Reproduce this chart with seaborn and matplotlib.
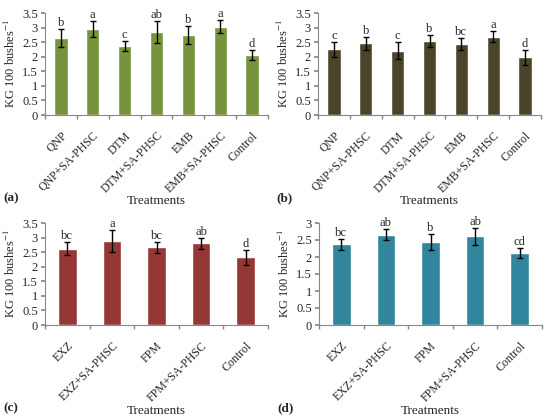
import numpy as np
import pandas as pd
import matplotlib
matplotlib.use("Agg")
import matplotlib.pyplot as plt
import seaborn as sns
from matplotlib.ticker import FuncFormatter, MultipleLocator

# panel (a)
cats_a = ['QNP', 'QNP+SA-PHSC', 'DTM', 'DTM+SA-PHSC', 'EMB', 'EMB+SA-PHSC', 'Control']
vals_a = [2.64, 2.95, 2.37, 2.84, 2.74, 3.03, 2.06]
errs_a = [0.30, 0.28, 0.16, 0.38, 0.30, 0.22, 0.18]
lets_a = ['b', 'a', 'c', 'ab', 'b', 'a', 'd']

# panel (b)
cats_b = cats_a
vals_b = [2.25, 2.46, 2.21, 2.53, 2.43, 2.69, 1.98]
errs_b = [0.25, 0.22, 0.29, 0.21, 0.21, 0.20, 0.26]
lets_b = ['c', 'b', 'c', 'b', 'bc', 'a', 'd']

# panel (c)
cats_c = ['EXZ', 'EXZ+SA-PHSC', 'FPM', 'FPM+SA-PHSC', 'Control']
vals_c = [2.62, 2.89, 2.66, 2.80, 2.33]
errs_c = [0.23, 0.38, 0.19, 0.19, 0.26]
lets_c = ['bc', 'a', 'bc', 'ab', 'd']

# panel (d)
cats_d = cats_c
vals_d = [2.38, 2.65, 2.45, 2.61, 2.11]
errs_d = [0.16, 0.16, 0.24, 0.25, 0.15]
lets_d = ['bc', 'ab', 'b', 'ab', 'cd']

sns.set_theme(style="white")
plt.rcParams['font.family'] = ['Liberation Serif', 'DejaVu Serif']
plt.rcParams['mathtext.fontset'] = 'stix'
plt.rcParams['font.size'] = 9

W, H = 550, 418
fig = plt.figure(figsize=(W / 100, H / 100), dpi=100)

panels = [
    (cats_a, vals_a, errs_a, lets_a, '#77933C', 3.5, [45, 115], '(a)'),
    (cats_b, vals_b, errs_b, lets_b, '#4A452A', 3.5, [318, 115], '(b)'),
    (cats_c, vals_c, errs_c, lets_c, '#953735', 3.5, [45, 325], '(c)'),
    (cats_d, vals_d, errs_d, lets_d, '#31859C', 3.0, [319, 325], '(d)'),
]

for cats, vals, errs, lets, col, ymax, (x0, y0), tag in panels:
    ax = fig.add_axes([x0 / W, 1 - y0 / H, 223 / W, 102 / H])
    df = pd.DataFrame({'treat': cats, 'val': vals})
    sns.barplot(data=df, x='treat', y='val', color=col, saturation=1,
                width=0.42, errorbar=None, ax=ax)
    ax.errorbar(np.arange(len(cats)), vals, yerr=errs, fmt='none',
                ecolor='black', elinewidth=1, capsize=2.5, capthick=1)
    for i, (v, e, l) in enumerate(zip(vals, errs, lets)):
        ax.text(i, v + e, l, ha='center', va='bottom', fontsize=9)

    ax.set_ylim(0, ymax)
    ax.set_xlim(-0.5, len(cats) - 0.5)
    ax.yaxis.set_major_locator(MultipleLocator(0.5))
    ax.yaxis.set_major_formatter(FuncFormatter(lambda v, p: f'{v:g}'))
    ax.set_xticks(np.arange(len(cats)))
    ax.set_xticklabels(cats, rotation=45, ha='right', rotation_mode='anchor')
    ax.set_xticks(np.arange(len(cats) + 1) - 0.5, minor=True)
    ax.tick_params(axis='x', which='major', length=0, pad=10.5, labelsize=8.5)
    ax.tick_params(axis='x', which='minor', length=3, color='#888888', direction='out', bottom=True)
    ax.tick_params(axis='y', length=3, color='#888888', direction='out', left=True, labelsize=9, pad=2)
    for s in ['top', 'right']:
        ax.spines[s].set_visible(False)
    for s in ['left', 'bottom']:
        ax.spines[s].set_color('#888888')
        ax.spines[s].set_linewidth(0.8)

    ax.set_ylabel('KG 100 bushes$^{-1}$', fontsize=9, labelpad=3)
    ax.set_xlabel('Treatments', fontsize=9.5)
    ax.xaxis.set_label_coords(0.5, -0.78)
    fig.text((x0 - 42) / W, 1 - (y0 + 83) / H, tag, fontsize=9.5,
             fontweight='bold', va='center', ha='left')

fig.savefig('out.png', dpi=100)
